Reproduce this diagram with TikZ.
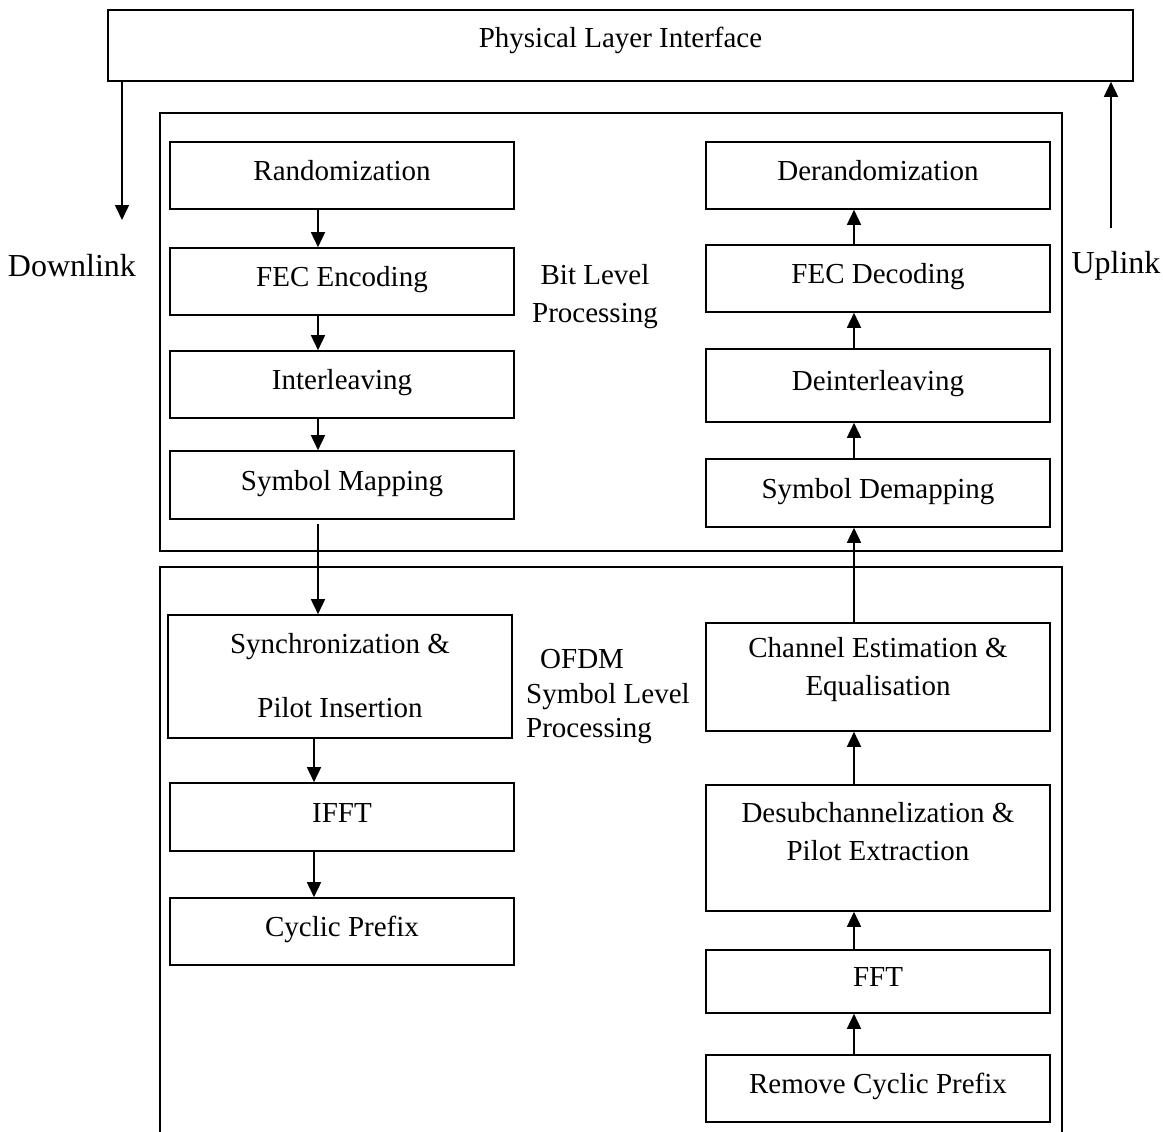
\documentclass[tikz,border=0pt]{standalone}
\usepackage{fontspec}
\setmainfont{Liberation Serif}
\usetikzlibrary{arrows.meta}
\tikzset{
  frame/.style={draw, line width=1.6pt, inner sep=0pt, minimum width=344pt},
  box/.style={frame, align=center, font=\fontsize{29}{38}\selectfont, text height=20pt, text depth=10pt},
  mtxt/.style={align=center, inner sep=0pt, font=\fontsize{29}{38}\selectfont},
  arr/.style={line width=1.6pt, -{Triangle[width=14pt,length=15pt]}},
  lbl/.style={font=\fontsize{29}{37}\selectfont, inner sep=0pt}
}
\begin{document}
\begin{tikzpicture}[x=1pt,y=-1pt]
\useasboundingbox (0,0) rectangle (1163,1132);
% top interface
\node (phy) [box, minimum width=1025pt, minimum height=71pt, text depth=16pt] at (620.5,45.5) {Physical Layer Interface};
\coordinate (dl) at (122,220);
\coordinate (ul) at (1111,228);
\draw[arr] (phy.south -| dl) -- (dl);
\draw[arr] (ul) -- (phy.south -| ul);
\node (dltxt) [lbl, font=\fontsize{32}{38}\selectfont] at (72,266) {Downlink};
\node (ultxt) [lbl, font=\fontsize{32}{38}\selectfont] at (1116,266) {Uplink};
% group boxes
\node (bitgrp) [draw, line width=1.6pt, minimum width=902pt, minimum height=438pt, inner sep=0pt] at (611,332) {};
\draw[line width=1.6pt] (160,1140) -- (160,567) coordinate (ofdmtl) -- (1062,567) -- (1062,1140);
\node (bittxt) [lbl, align=center, font=\fontsize{29}{38}\selectfont] at (595,297) {Bit Level\\Processing};
\node (ofdmtxt) [lbl, align=left, anchor=west, font=\fontsize{29}{34.5}\selectfont] at (526,697) {\hspace*{14pt}OFDM\\Symbol Level\\Processing};
% left column
\node (rand)   [box, minimum height=67pt] at (342,175.5) {Randomization};
\node (fecenc) [box, minimum height=67pt] at (342,281.5) {FEC Encoding};
\node (inter)  [box, minimum height=67pt] at (342,384.5) {Interleaving};
\node (symmap) [box, minimum height=68pt] at (342,485) {Symbol Mapping};
\node (sync)   [frame, minimum height=123pt] at (340,676.5) {};
\node (syncT)  [mtxt, font=\fontsize{29}{64}\selectfont] at (340,676) {Synchronization \&\\Pilot Insertion};
\node (ifft)   [box, minimum height=68pt] at (342,817) {IFFT};
\node (cp)     [box, minimum height=67pt] at (342,931.5) {Cyclic Prefix};
% right column
\node (derand) [box, minimum height=67pt] at (878,175.5) {Derandomization};
\node (fecdec) [box, minimum height=67pt] at (878,278.5) {FEC Decoding};
\node (deint)  [box, minimum height=73pt] at (878,385.5) {Deinterleaving};
\node (demap)  [box, minimum height=68pt] at (878,493) {Symbol Demapping};
\node (chest)  [frame, minimum height=108pt] at (878,677) {};
\node (chestT) [mtxt] at (878,670) {Channel Estimation \&\\Equalisation};
\node (desub)  [frame, minimum height=126pt] at (878,848) {};
\node (desubT) [mtxt] at (878,831.5) {Desubchannelization \&\\Pilot Extraction};
\node (fft)    [box, minimum height=63pt] at (878,981.5) {FFT};
\node (rcp)    [box, minimum height=67pt] at (878,1088.5) {Remove Cyclic Prefix};
% arrows
\coordinate (lx) at (318,0);
\coordinate (lx2) at (314,0);
\coordinate (rx) at (854,0);
\draw[arr] (rand.south -| lx) -- (fecenc.north -| lx);
\draw[arr] (fecenc.south -| lx) -- (inter.north -| lx);
\draw[arr] (inter.south -| lx) -- (symmap.north -| lx);
\draw[arr] ([yshift=-4pt]symmap.south -| lx) -- (sync.north -| lx);
\draw[arr] (sync.south -| lx2) -- (ifft.north -| lx2);
\draw[arr] (ifft.south -| lx2) -- (cp.north -| lx2);
\draw[arr] (rcp.north -| rx) -- (fft.south -| rx);
\draw[arr] (fft.north -| rx) -- (desub.south -| rx);
\draw[arr] (desub.north -| rx) -- (chest.south -| rx);
\draw[arr] (chest.north -| rx) -- (demap.south -| rx);
\draw[arr] (demap.north -| rx) -- (deint.south -| rx);
\draw[arr] (deint.north -| rx) -- (fecdec.south -| rx);
\draw[arr] (fecdec.north -| rx) -- (derand.south -| rx);
\end{tikzpicture}
\end{document}
